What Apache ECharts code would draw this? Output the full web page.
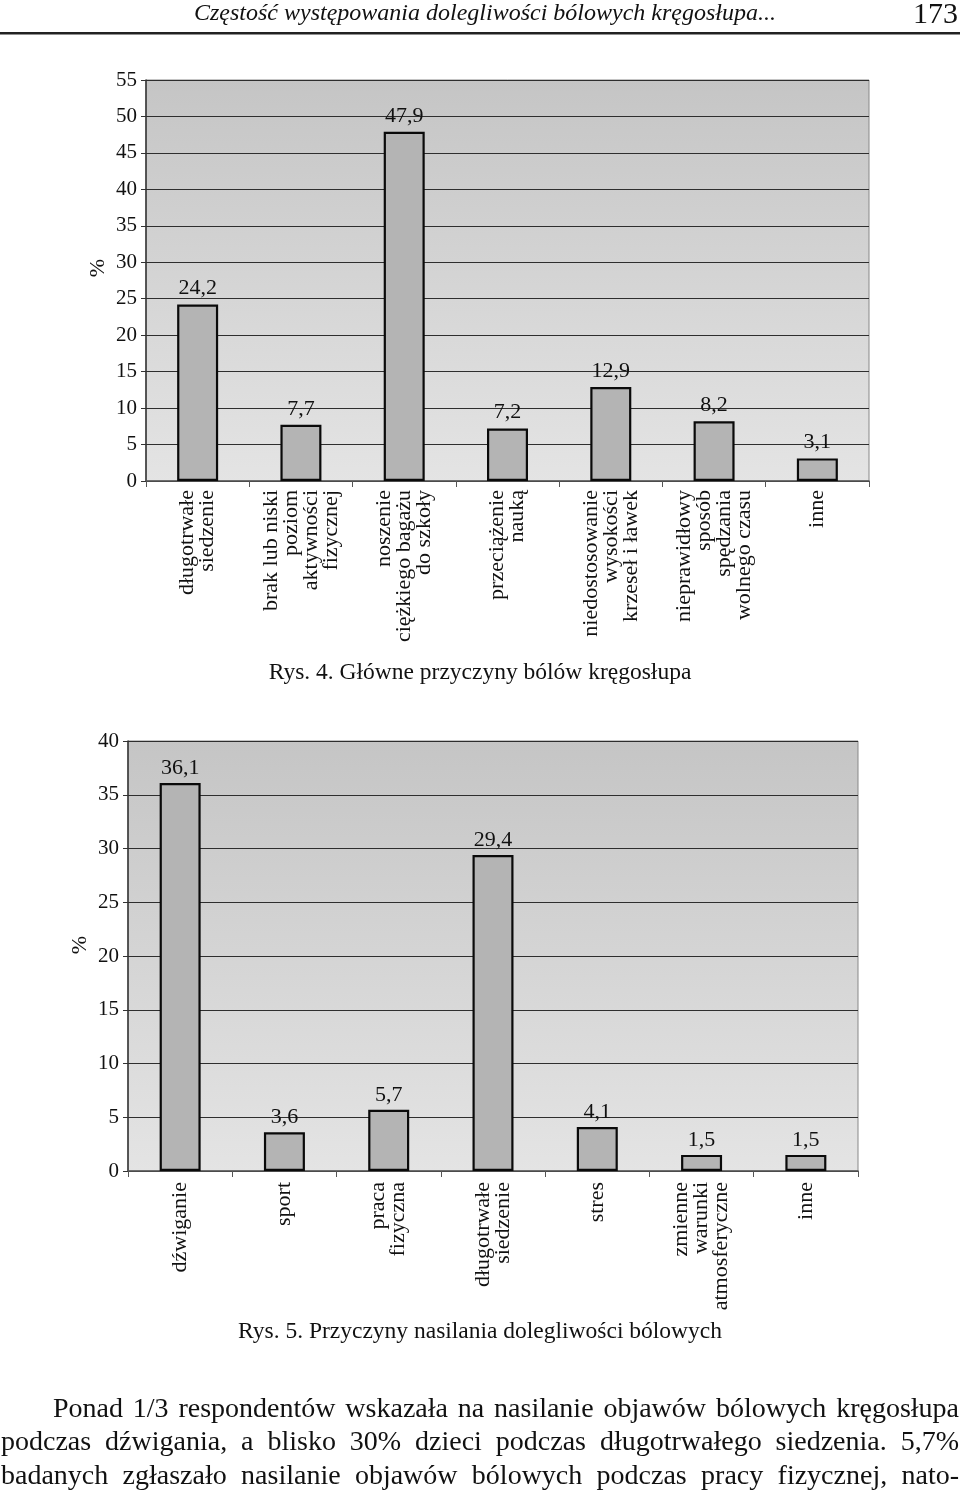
<!DOCTYPE html>
<html>
<head>
<meta charset="utf-8">
<script src="https://cdn.jsdelivr.net/npm/echarts@6/dist/echarts.min.js"></script>
<style>
  html, body { margin: 0; padding: 0; background: #fff; }
  #chart { position: absolute; left: 0; top: 0; width: 960px; height: 1499px; }
  .para { position: absolute; font-family: 'Liberation Serif', serif; font-size: 28px; line-height: 34px; color: #111;
          text-align: justify; text-align-last: justify; white-space: normal; }
</style>
</head>
<body>
<div id="chart"></div>
<div class="para" style="left:53px; top:1391px; width:906px;">Ponad 1/3 respondentów wskazała na nasilanie objawów bólowych kręgosłupa</div>
<div class="para" style="left:1px; top:1424px; width:958px;">podczas dźwigania, a blisko 30% dzieci podczas długotrwałego siedzenia. 5,7%</div>
<div class="para" style="left:1px; top:1458px; width:958px;">badanych zgłaszało nasilanie objawów bólowych podczas pracy fizycznej, nato-</div>
<script>
// ---- data ----
const headerTitle = 'Częstość występowania dolegliwości bólowych kręgosłupa...';
const pageNumber = '173';
const caption1 = 'Rys. 4. Główne przyczyny bólów kręgosłupa';
const caption2 = 'Rys. 5. Przyczyny nasilania dolegliwości bólowych';
const categories1 = ['długotrwałe\nsiedzenie', 'brak lub niski\npoziom\naktywności\nfizycznej', 'noszenie\nciężkiego bagażu\ndo szkoły', 'przeciążenie\nnauką', 'niedostosowanie\nwysokości\nkrzeseł i ławek', 'nieprawidłowy\nsposób\nspędzania\nwolnego czasu', 'inne'];
const values1 = [24.2, 7.7, 47.9, 7.2, 12.9, 8.2, 3.1];
const categories2 = ['dźwiganie', 'sport', 'praca\nfizyczna', 'długotrwałe\nsiedzenie', 'stres', 'zmienne\nwarunki\natmosferyczne', 'inne'];
const values2 = [36.1, 3.6, 5.7, 29.4, 4.1, 1.5, 1.5];
const yAxisName = '%';

// ---- styles ----
const FONT = 'Liberation Serif';
const TXT = '#111';
const plotBg = { type: 'linear', x: 0, y: 0, x2: 0, y2: 1, colorStops: [{ offset: 0, color: '#c5c5c5' }, { offset: 1, color: '#e4e4e4' }] };
const fmt = p => String(p.value).replace('.', ',');

function yAxis(gridIndex, max) {
  return {
    type: 'value', gridIndex, min: 0, max, interval: 5,
    axisLine: { show: true, lineStyle: { color: '#333', width: 1.5 } },
    axisTick: { show: true, length: 5, lineStyle: { color: '#333' } },
    axisLabel: { fontFamily: FONT, fontSize: 21, color: TXT, margin: 9 },
    splitLine: { show: true, lineStyle: { color: '#2e2e2e', width: 1.2 } }
  };
}
function xAxis(gridIndex, data, margin) {
  return {
    type: 'category', gridIndex, data,
    axisLine: { show: true, lineStyle: { color: '#555', width: 1.5 } },
    axisTick: { show: true, length: 6, lineStyle: { color: '#555' } },
    axisLabel: { rotate: 90, interval: 0, fontFamily: FONT, fontSize: 22, lineHeight: 20, color: TXT, margin }
  };
}
function bars(idx, data, dist) {
  return {
    type: 'bar', xAxisIndex: idx, yAxisIndex: idx, data, barWidth: 41,
    itemStyle: { color: '#b4b4b4', borderColor: '#0a0a0a', borderWidth: 2.2 },
    label: { show: true, position: 'top', distance: dist, formatter: fmt, fontFamily: FONT, fontSize: 22, color: TXT },
    silent: true
  };
}
function axisName(x, y) {
  return { type: 'text', x, y, rotation: Math.PI / 2,
    style: { text: yAxisName, font: '22px "Liberation Serif"', fill: TXT, textAlign: 'center', textVerticalAlign: 'middle', align: 'center', verticalAlign: 'middle' } };
}

const chart = echarts.init(document.getElementById('chart'), null, { renderer: 'canvas' });
chart.setOption({
  backgroundColor: '#fff',
  animation: false,
  textStyle: { fontFamily: FONT },
  title: [
    { text: caption1, left: 'center', top: 656, textStyle: { fontFamily: FONT, fontSize: 23.5, fontWeight: 'normal', color: TXT } },
    { text: caption2, left: 'center', top: 1315, textStyle: { fontFamily: FONT, fontSize: 23.5, fontWeight: 'normal', color: TXT } }
  ],
  grid: [
    { left: 146, top: 80, width: 723, height: 401, show: true, backgroundColor: plotBg, borderColor: '#888', borderWidth: 1 },
    { left: 128, top: 741, width: 730, height: 430, show: true, backgroundColor: plotBg, borderColor: '#888', borderWidth: 1 }
  ],
  xAxis: [xAxis(0, categories1, 9), xAxis(1, categories2, 11)],
  yAxis: [yAxis(0, 55), yAxis(1, 40)],
  series: [bars(0, values1, 5), bars(1, values2, 4)],
  graphic: [
    { type: 'text', x: 485, y: 14, style: { text: headerTitle, font: 'italic 24px "Liberation Serif"', fill: TXT, textAlign: 'center', textVerticalAlign: 'middle', align: 'center', verticalAlign: 'middle' } },
    { type: 'text', x: 958, y: 15, style: { text: pageNumber, font: '30px "Liberation Serif"', fill: TXT, textAlign: 'right', textVerticalAlign: 'middle', align: 'right', verticalAlign: 'middle' } },
    { type: 'rect', shape: { x: 0, y: 32, width: 960, height: 2.5 }, style: { fill: '#222' } },
    axisName(98, 268),
    axisName(80, 945)
  ]
});
</script>
</body>
</html>
